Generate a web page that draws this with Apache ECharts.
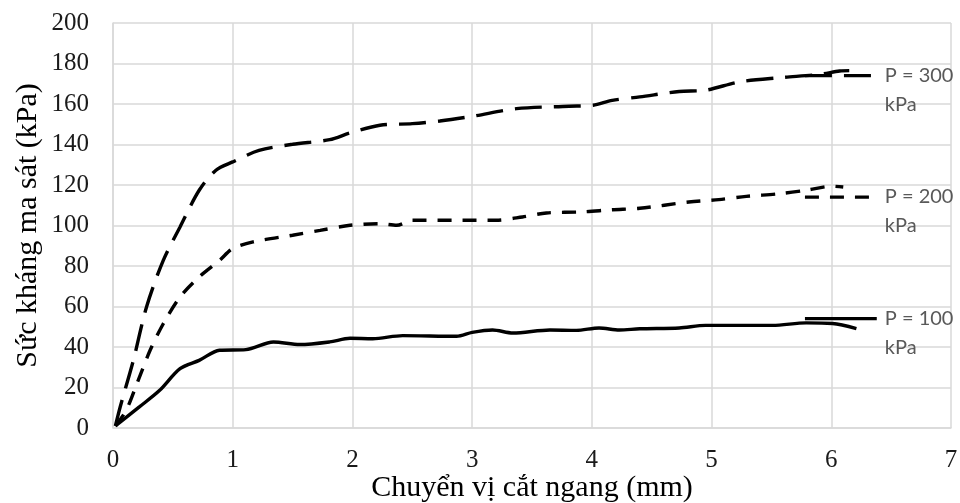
<!DOCTYPE html>
<html>
<head>
<meta charset="utf-8">
<title>Sức kháng ma sát</title>
<script src="https://cdn.jsdelivr.net/npm/echarts@6/dist/echarts.min.js"></script>
<style>
  html, body { margin: 0; padding: 0; background: #fff; }
  #chart { width: 960px; height: 503px; }
</style>
</head>
<body>
<div id="chart"></div>
<script>
// Shear stress vs horizontal displacement, three normal loads
const dispP100 = [0.02, 0.22, 0.39, 0.56, 0.72, 0.89, 1.11, 1.34, 1.56, 1.81, 1.98, 2.17, 2.42, 2.87, 3.0, 3.17, 3.34, 3.65, 3.87, 4.06, 4.23, 4.40, 4.73, 4.95, 5.51, 5.79, 6.01, 6.21];
const shearP100 = [1, 10.4, 18.6, 29.3, 33.4, 38.4, 38.7, 42.5, 41.2, 42.5, 44.3, 44.1, 45.6, 45.3, 47.2, 48.4, 46.9, 48.4, 48.2, 49.4, 48.4, 49.0, 49.4, 50.7, 50.7, 51.9, 51.6, 49.1];

const dispP200 = [0.02, 0.11, 0.2, 0.31, 0.42, 0.56, 0.72, 0.89, 1.0, 1.17, 1.5, 1.73, 1.98, 2.23, 2.37, 2.5, 2.92, 3.2, 3.42, 3.62, 3.92, 4.17, 4.40, 4.81, 5.06, 5.29, 5.57, 5.79, 6.01, 6.1];
const shearP200 = [1, 8.7, 21.9, 38.4, 51.5, 64.7, 74.6, 82.8, 88.6, 91.9, 95.2, 97.6, 100.1, 100.9, 100.1, 102.6, 102.6, 102.6, 104.2, 106.2, 106.7, 107.8, 108.5, 111.6, 112.8, 114.4, 115.7, 117.4, 119.4, 119];

const dispP300 = [0.02, 0.06, 0.17, 0.28, 0.42, 0.56, 0.72, 0.86, 1.0, 1.22, 1.5, 1.81, 1.98, 2.23, 2.5, 2.73, 3.0, 3.37, 3.81, 4.01, 4.17, 4.40, 4.73, 4.95, 5.23, 5.57, 5.90, 6.07, 6.15];
const shearP300 = [1, 10.4, 33.4, 59.8, 82.8, 99.3, 117.4, 127.3, 131.4, 137.1, 140.1, 142.4, 145.7, 149.5, 150.3, 151.6, 153.9, 157.7, 158.9, 159.4, 161.8, 163.5, 166.2, 166.8, 170.9, 173.0, 174.6, 176.3, 176.5];

// Short key strokes drawn beside each series label
const keyDisp = [5.78, 6.38];
const keyP100 = [54, 54];
const keyP200 = [114, 114];
const keyP300 = [174, 174];

const seriesNames = ['P = 100', 'P = 200', 'P = 300'];
const xTicks = { min: 0, max: 7, step: 1 };
const yTicks = { min: 0, max: 200, step: 20 };

const xTitle = 'Chuyển vị cắt ngang (mm)';
const yTitle = 'Sức kháng ma sát (kPa)';

const pairs = (xs, ys) => xs.map((x, i) => [x, ys[i]]);

const serif = 'Liberation Serif';
const labelFont = 'Lato';

const dashLong = [27, 12];
const dashShort = [14, 11];
const strokeW = 3.4;

function curve(name, xs, ys, dash) {
  return {
    name: name,
    type: 'line',
    data: pairs(xs, ys),
    smooth: 0.3,
    showSymbol: false,
    lineStyle: { color: '#000', width: strokeW, type: dash, cap: 'butt' },
    z: 3
  };
}

function key(name, ys, dash) {
  return {
    name: name + ' key',
    type: 'line',
    data: pairs(keyDisp, ys),
    showSymbol: false,
    lineStyle: { color: '#000', width: strokeW, type: dash, cap: 'butt' },
    endLabel: {
      show: true,
      formatter: name + '\nkPa',
      fontFamily: labelFont,
      fontSize: 20,
      color: '#595959',
      lineHeight: 29,
      distance: 8,
      align: 'left',
      verticalAlign: 'middle',
      offset: [0, 14]
    },
    z: 4
  };
}

const chart = echarts.init(document.getElementById('chart'), null, { renderer: 'canvas' });

chart.setOption({
  animation: false,
  backgroundColor: '#fff',
  grid: { left: 113, right: 9, top: 23, bottom: 75, containLabel: false, outerBoundsMode: 'none' },
  xAxis: {
    type: 'value',
    min: xTicks.min, max: xTicks.max, interval: xTicks.step,
    name: xTitle,
    nameLocation: 'middle',
    nameGap: 45,
    nameMoveOverlap: false,
    nameTextStyle: { fontFamily: serif, fontSize: 30, color: '#000', verticalAlign: 'top' },
    axisLine: { show: true, lineStyle: { color: '#d9d9d9', width: 1.5 } },
    axisTick: { show: false },
    axisLabel: { fontFamily: serif, fontSize: 25, color: '#1a1a1a', margin: 20 },
    splitLine: { show: true, lineStyle: { color: '#d9d9d9', width: 1.5 } }
  },
  yAxis: {
    type: 'value',
    min: yTicks.min, max: yTicks.max, interval: yTicks.step,
    name: yTitle,
    nameLocation: 'middle',
    nameGap: 70,
    nameMoveOverlap: false,
    nameTextStyle: { fontFamily: serif, fontSize: 30, color: '#000' },
    axisLine: { show: true, lineStyle: { color: '#d9d9d9', width: 1.5 } },
    axisTick: { show: false },
    axisLabel: { fontFamily: serif, fontSize: 25, color: '#1a1a1a', margin: 24 },
    splitLine: { show: true, lineStyle: { color: '#d9d9d9', width: 1.5 } }
  },
  series: [
    curve(seriesNames[0], dispP100, shearP100, 'solid'),
    curve(seriesNames[1], dispP200, shearP200, dashShort),
    curve(seriesNames[2], dispP300, shearP300, dashLong),
    key(seriesNames[0], keyP100, 'solid'),
    key(seriesNames[1], keyP200, dashShort),
    key(seriesNames[2], keyP300, dashLong)
  ]
});
</script>
</body>
</html>
